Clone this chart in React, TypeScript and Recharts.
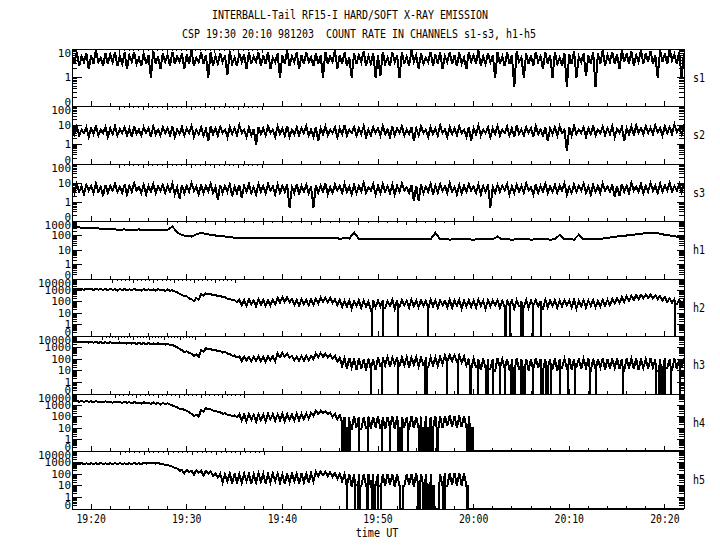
import React from 'react';
import { LineChart, Line, XAxis, YAxis } from 'recharts';

// minutes after 19:00; one half-minute bin from 19:18 to 20:22.
// *_HI / *_LO are the top and bottom of the noisy trace in each bin.
const T0 = 18;
const STEP = 0.5;
const T_END = 82;

const MAJOR_TICKS = [20, 30, 40, 50, 60, 70, 80];
const TICK_LABELS = ['19:20', '19:30', '19:40', '19:50', '20:00', '20:10', '20:20'];

const TITLE_1 = 'INTERBALL-Tail RF15-I HARD/SOFT X-RAY EMISSION';
const TITLE_2 = 'CSP 19:30 20:10 981203  COUNT RATE IN CHANNELS s1-s3, h1-h5';
const X_TITLE = 'time UT';

const S1_HI = [
  6, 8, 5.5, 7, 6, 9, 5, 7, 6.5, 8,
  5.5, 7.5, 6, 8, 5, 7, 6, 8.5, 5.5, 7,
  6, 8, 5.5, 7, 6.5, 9, 5, 7.5, 6, 8,
  5.5, 7, 6, 8.5, 5, 7, 6.5, 8, 5.5, 7.5,
  6, 8, 5, 7, 6, 9, 5.5, 7.5, 6, 8,
  5, 7, 6, 8, 5.5, 9, 6, 7.5, 5, 7,
  6, 8.5, 5.5, 7, 6, 8, 5, 7.5, 6, 8,
  5.5, 9, 6, 7, 5, 8, 6.5, 7.5, 5.5, 8,
  6, 7.5, 5, 8, 6, 9, 5.5, 7, 6, 8,
  5.5, 7.5, 6, 8.5, 5, 7, 6, 8, 5.5, 7.5,
  6, 8, 5, 7, 6.5, 8.5, 5.5, 7, 6, 8,
  7, 9, 6, 8, 6.5, 9, 7, 8.5, 6, 9,
  7, 8.5, 6, 9, 7, 9.5, 6.5, 8, 7,
];
const S1_LO = [
  3, 2.5, 3.5, 2, 3, 3.5, 2.5, 3, 3.5, 2.5,
  3, 2, 3.5, 3, 2.5, 3, 1, 3, 2, 3.5,
  2.5, 3, 3.5, 2, 3, 2.5, 3.5, 3, 1, 2.5,
  3, 3.5, 1.2, 3, 2.5, 3.5, 2, 3, 3.5, 2.5,
  3, 2, 3.5, 1, 3, 2.5, 3.5, 2, 3, 3.5,
  2.5, 3, 1, 3, 3.5, 2, 3, 2.5, 1, 3,
  3.5, 2.5, 3, 1, 1.1, 3, 2.5, 3.5, 1, 3,
  2.5, 3.5, 2, 3, 3.5, 2.5, 3, 2, 3.5, 3,
  2.5, 3, 2, 3.5, 3, 2.5, 3, 3.5, 1, 3,
  2.5, 3, 0.45, 3.5, 1, 3, 2.5, 3.5, 2, 3,
  1, 3, 2.5, 0.45, 3, 1, 3.5, 1.1, 3, 0.45,
  3, 2.5, 3.5, 3, 2, 3.5, 3, 2.5, 3.5, 3,
  3.5, 3, 1, 3.5, 3, 4, 3, 1, 3.5,
];

const S2_HI = [
  7, 9, 6, 8, 7, 10, 6, 8, 7, 9,
  6.5, 8, 7, 9.5, 6, 8, 7, 9, 6, 8,
  7, 9, 6, 8, 7, 9.5, 6, 8, 6.5, 9,
  7, 8.5, 6, 8, 7, 10, 6, 8, 6.5, 8,
  7, 9, 6, 8.5, 7, 9.5, 6, 8, 7, 9,
  6, 8, 7, 9, 6, 8, 7, 10, 6, 8,
  7, 9, 6, 8, 7, 9.5, 6, 8.5, 7, 9,
  6, 8, 7, 9, 6, 8, 7, 10, 6, 8,
  7, 9, 6, 8, 7, 9.5, 6, 8, 7, 9,
  6, 8.5, 7, 10, 6, 8, 7, 9, 6, 8,
  7, 8, 9, 6, 8, 9.5, 6, 8, 7, 10,
  6, 8.5, 7, 9, 6.5, 8, 7, 9, 10, 7,
  9, 7.5, 10, 7, 9, 8, 11, 7, 9,
];
const S2_LO = [
  3.5, 3, 4, 2.5, 3.5, 3, 4, 2.5, 3.5, 3,
  4, 3, 2.5, 3.5, 3, 4, 2.5, 3.5, 3, 4,
  3, 2.5, 3.5, 3, 4, 2.5, 3.5, 3, 1.5, 3.5,
  3, 4, 2.5, 3.5, 3, 4, 2.5, 3, 1, 3.5,
  3, 4, 2.5, 3.5, 3, 2.5, 3.5, 3, 4, 3,
  2.5, 1.5, 3.5, 3, 4, 2.5, 3.5, 3, 4, 3,
  3.5, 2.5, 3, 4, 3, 3.5, 2.5, 3, 4, 3,
  3.5, 1.5, 3, 4, 2.5, 3.5, 3, 4, 2.5, 3.5,
  3, 4, 2.5, 1.6, 3.5, 3, 4, 2.5, 3.5, 3,
  4, 3, 2.5, 3.5, 3, 4, 2.5, 3.5, 3, 1.5,
  3.5, 3, 4, 0.45, 3, 3.5, 4, 2.5, 3.5, 3,
  4, 3, 3.5, 2.5, 4, 1.5, 3.5, 3, 4, 3.5,
  4, 3.5, 4.5, 3, 4, 3.5, 4.5, 3.5, 4,
];

const S3_HI = [
  7, 9, 6.5, 8, 7, 9.5, 6, 8, 7, 9,
  6.5, 8.5, 7, 10, 6, 8, 7, 9, 6.5, 8,
  7, 9, 6, 8, 7, 10, 6.5, 8.5, 7, 9,
  6, 8, 7, 8.5, 6.5, 8, 7, 9, 6, 8.5,
  7, 9, 6.5, 8, 7, 8.5, 6, 9, 7, 8,
  6.5, 8, 7, 9.5, 6, 8.5, 7, 9, 6.5, 8,
  7, 10, 6, 8.5, 7, 9, 6.5, 8, 7, 9.5,
  6, 8, 7, 8.5, 6.5, 9, 7, 8.5, 7, 10,
  6, 8, 7, 9, 6.5, 8, 7, 8.5, 6, 8,
  7, 9, 6.5, 8, 7, 10, 6, 8.5, 7, 9,
  6.5, 8, 7, 9.5, 6, 8.5, 7, 9, 6.5, 8,
  7, 9.5, 6.5, 8.5, 7, 9, 7, 10, 6.5, 9,
  7, 10, 7, 9.5, 7.5, 10, 7, 9, 8,
];
const S3_LO = [
  3, 3.5, 2.5, 4, 3, 3.5, 2, 3, 4, 3.5,
  3, 2.5, 3.5, 4, 3, 2.5, 3.5, 3, 4, 3,
  3.5, 2.5, 1.5, 3, 3.5, 4, 2.5, 3, 3.5, 3,
  1.3, 3, 3.5, 2, 3, 1.6, 3.5, 3, 2.5, 3.5,
  3, 4, 2.5, 3, 3.5, 0.5, 3, 2.5, 3.5, 3,
  0.5, 3, 3.5, 2.5, 3, 4, 3, 3.5, 2.5, 3,
  3.5, 3, 4, 2.5, 3, 3.5, 3, 2.5, 3.5, 4,
  3, 1.1, 1.2, 3, 3.5, 2.5, 3, 4, 3, 3.5,
  2.5, 3, 3.5, 4, 3, 2.5, 3.5, 0.5, 3, 3.5,
  4, 2.5, 3, 3.5, 3, 4, 2.5, 3, 3.5, 3,
  3.5, 3, 4, 2.5, 3, 3.5, 4, 3, 2.5, 3.5,
  3, 4, 3.5, 1.8, 2, 3.5, 3, 4, 3.5, 3,
  3.5, 4, 3, 3.5, 4, 3.5, 4, 3.5, 4,
];

const H1 = [
  380, 370, 350, 330, 320, 310, 300, 290, 270, 260,
  255, 260, 250, 255, 260, 250, 255, 258, 252, 255,
  250, 420, 160, 110, 90, 85, 120, 150, 130, 110,
  100, 90, 85, 78, 70, 72, 66, 70, 65, 68,
  62, 68, 64, 70, 66, 62, 67, 64, 69, 65,
  68, 62, 66, 70, 64, 68, 60, 65, 62, 160,
  60, 58, 62, 56, 58, 55, 57, 54, 56, 53,
  55, 54, 57, 53, 56, 55, 150, 54, 56, 52,
  55, 53, 56, 54, 52, 55, 53, 56, 54, 85,
  53, 55, 52, 54, 53, 56, 52, 54, 53, 55,
  52, 54, 110, 53, 55, 52, 115, 54, 56, 58,
  60, 62, 65, 80, 85, 90, 100, 110, 120, 130,
  145, 150, 148, 135, 110, 100, 88, 78, 70,
];

const H2_HI = [
  1500, 1400, 1400, 1450, 1350, 1400, 1350, 1300, 1400, 1250,
  1350, 1300, 1250, 1350, 1200, 1300, 1250, 1200, 1300, 1150,
  1200, 1000, 700, 400, 300, 170, 220, 450, 550, 480,
  400, 340, 260, 190, 140, 150, 140, 160, 130, 170,
  150, 140, 160, 220, 260, 250, 170, 150, 160, 140,
  170, 180, 230, 220, 240, 160, 150, 120, 130, 110,
  140, 120, 110, 130, 130, 140, 120, 150, 130, 140,
  120, 150, 130, 140, 125, 150, 130, 140, 120, 145,
  130, 150, 120, 140, 130, 150, 125, 140, 130, 145,
  120, 150, 130, 140, 125, 150, 130, 140, 120, 150,
  130, 145, 120, 140, 130, 150, 125, 140, 130, 150,
  120, 140, 150, 180, 220, 260, 300, 330, 380, 400,
  420, 410, 380, 320, 260, 200, 170, 150, 140,
];
const H2_LO = [
  1200, 1150, 1100, 1200, 1050, 1150, 1100, 1050, 1150, 1000,
  1100, 1050, 1000, 1100, 950, 1050, 1000, 950, 1050, 900,
  950, 800, 500, 300, 200, 110, 150, 350, 450, 380,
  320, 260, 190, 130, 90, 50, 45, 60, 40, 55,
  45, 50, 60, 90, 100, 90, 55, 45, 60, 50,
  55, 70, 100, 90, 80, 50, 35, 40, 25, 45,
  30, 40, 17, 35, 40, 30, 45, 25, 35, 50,
  30, 40, 35, 45, 25, 40, 30, 50, 35, 30,
  45, 25, 40, 35, 30, 45, 25, 40, 50, 30,
  35, 45, 25, 40, 35, 30, 50, 40, 25, 35,
  45, 30, 40, 50, 35, 25, 40, 30, 45, 35,
  40, 45, 50, 70, 80, 100, 120, 150, 170, 200,
  220, 200, 170, 130, 100, 80, 60, 50, 45,
];

const H3_HI = [
  3400, 3300, 3300, 3100, 3100, 3100, 2900, 2900, 2900, 2700,
  2800, 2600, 2700, 2500, 2600, 2400, 2500, 2300, 2400, 2200,
  2100, 1700, 1100, 600, 480, 300, 250, 600, 900, 750,
  620, 520, 430, 300, 210, 180, 170, 160, 170, 180,
  150, 170, 180, 320, 340, 300, 200, 170, 180, 190,
  200, 320, 330, 300, 250, 200, 130, 120, 130, 110,
  127, 100, 110, 90, 150, 140, 155, 130, 150, 140,
  150, 135, 150, 140, 155, 130, 150, 160, 220, 230,
  220, 200, 170, 110, 105, 100, 115, 110, 100, 120,
  105, 110, 100, 115, 105, 110, 100, 120, 110, 105,
  100, 115, 110, 100, 120, 105, 110, 100, 115, 110,
  100, 120, 105, 110, 115, 100, 110, 105, 120, 110,
  100, 115, 105, 110, 120, 100, 110, 105, 115,
];
const H3_LO = [
  3000, 2800, 2800, 2700, 2600, 2600, 2500, 2400, 2400, 2300,
  2300, 2200, 2200, 2100, 2100, 2000, 2000, 1900, 1900, 1800,
  1700, 1300, 750, 420, 330, 200, 160, 420, 700, 560,
  470, 380, 300, 200, 140, 70, 80, 65, 75, 70,
  60, 80, 65, 150, 160, 130, 80, 70, 75, 80,
  100, 150, 160, 140, 110, 60, 25, 15, 20, 12,
  15, 10, 15, 12, 25, 30, 21, 35, 25, 30,
  20, 35, 25, 30, 21, 30, 25, 40, 60, 70,
  60, 50, 30, 15, 20, 12, 18, 15, 10, 20,
  15, 12, 18, 15, 20, 10, 15, 18, 12, 20,
  15, 10, 18, 15, 12, 20, 15, 18, 10, 15,
  20, 12, 15, 18, 15, 10, 20, 15, 12, 18,
  15, 20, 10, 15, 18, 12, 15, 20, 15,
];

// h4 and h5 end near 20:00; a trailing gap sets them to zero afterwards
const H4_HI = [
  2600, 2500, 2400, 2500, 2300, 2400, 2200, 2300, 2100, 2200,
  2000, 2100, 1900, 2000, 1800, 1900, 1700, 1800, 1600, 1600,
  1500, 1000, 700, 520, 350, 180, 150, 400, 560, 450,
  340, 250, 200, 150, 130, 170, 160, 180, 150, 170,
  160, 180, 170, 160, 180, 170, 160, 190, 180, 200,
  230, 330, 340, 320, 250, 190, 140, 100, 95, 110,
  100, 90, 105, 100, 110, 95, 100, 110, 105, 100,
  95, 110, 100, 105, 110, 100, 120, 110, 115, 130,
  120, 125, 120, 115,
];
const H4_LO = [
  2200, 2100, 2000, 2100, 1900, 2000, 1800, 1900, 1700, 1800,
  1600, 1700, 1500, 1600, 1400, 1500, 1300, 1400, 1200, 1300,
  1200, 800, 500, 380, 250, 120, 100, 300, 440, 350,
  260, 190, 150, 110, 90, 45, 40, 55, 35, 50,
  40, 60, 45, 50, 40, 55, 45, 50, 60, 70,
  120, 180, 200, 170, 100, 60, 40, 10, 9, 12,
  8, 10, 9, 12, 10, 8, 11, 9, 10, 12,
  8, 10, 9, 11, 10, 12, 9, 10, 15, 12,
  10, 12, 11, 10,
];

const H5_HI = [
  900, 880, 900, 860, 900, 880, 920, 860, 900, 880,
  900, 860, 890, 920, 880, 980, 1000, 980, 920, 780,
  650, 450, 300, 220, 230, 200, 220, 200, 190, 170,
  120, 110, 100, 120, 110, 100, 115, 110, 100, 120,
  110, 100, 115, 110, 100, 120, 110, 105, 115, 110,
  120, 160, 170, 160, 150, 130, 110, 100, 110, 95,
  105, 100, 110, 100, 105, 95, 110, 100, 100, 110,
  105, 100, 115, 110, 105, 100, 120, 110, 125, 120,
  130, 125, 115,
];
const H5_LO = [
  780, 740, 760, 720, 770, 740, 780, 730, 760, 740,
  770, 720, 750, 780, 740, 820, 880, 820, 780, 600,
  500, 350, 200, 120, 150, 90, 130, 80, 110, 70,
  50, 20, 25, 15, 20, 18, 25, 15, 20, 22,
  15, 20, 25, 18, 15, 20, 25, 15, 20, 18,
  25, 70, 80, 70, 60, 40, 25, 10, 8, 12,
  9, 10, 8, 11, 9, 10, 12, 8, 9, 10,
  12, 9, 10, 8, 11, 10, 12, 9, 10, 12,
  10, 11, 9,
];

// times (min after 19:00) where the count rate drops to zero
const H2_DROPS = [49.4, 50.55, 52.12, 55.26, 63.28, 63.35, 63.42, 63.8, 64.95, 65.05, 65.16, 66.21, 67.05, 81.06];
const H3_DROPS = [
  49.24, 50.45, 52.12, 54.92, 55.0, 55.09, 57.18, 58.37, 59.62, 59.73, 60.49, 61.32, 61.43, 61.54,
  62.03, 62.76, 63.28, 63.91, 64.02, 64.12, 64.23, 64.33, 64.95, 65.06, 65.16, 65.27, 65.37, 66.21,
  67.05, 67.26, 67.57, 67.78, 68.09, 69.03, 69.87, 70.6, 72.17, 72.8, 75.62, 79.07, 79.38, 79.59,
  79.8, 80.01, 80.64, 81.58,
];
const H4_DROPS = [
  46.2, 46.37, 46.55, 46.66, 46.76, 46.87, 46.97, 47.07, 48.04, 48.99, 50.39, 51.25, 52.12, 52.23,
  52.33, 52.47, 53.17, 54.32, 54.42, 54.52, 54.62, 54.72, 54.82, 54.92, 55.02, 55.12, 55.22, 55.32,
  55.42, 55.52, 55.62, 55.78, 56.14, 56.31, 59.28, 59.45, 59.62, 59.73,
];
const H5_DROPS = [
  46.73, 47.6, 47.94, 48.03, 48.12, 48.82, 48.99, 49.34, 49.5, 49.69, 50.03, 50.31, 54.22, 54.39,
  54.74, 54.92, 55.09, 55.19, 55.29, 55.39, 55.49, 55.59, 55.69, 55.79, 56.8, 57.01, 59.28,
];
// stretches with zero counts [from, to]
const H4_GAPS = [[59.9, 82]];
const H5_GAPS = [[52.3, 52.65], [55.86, 56.41], [59.45, 82]];

const FONT = '"DejaVu Sans Mono", "Liberation Mono", monospace';
const FLOOR = 0.1; // "0" sits on the bottom of each log axis

const PANEL_HEIGHTS = [57, 58, 57, 58, 57, 58, 57, 58];
const FIRST_TOP = 49;

const buildSeries = (hi: number[], lo: number[] | null, drops: number[] = [], gaps: number[][] = []) => {
  const pts: { t: number; v: number; o: number }[] = [];
  let o = 0;
  const inGap = (t: number) => gaps.some(([a, b]) => t > a && t < b);
  const base = (t: number) => {
    const i = Math.floor((t - T0) / STEP + 1e-9);
    if (i < 0 || i >= hi.length) return 0;
    return lo ? lo[i] : hi[i];
  };
  hi.forEach((v, i) => {
    const t = T0 + i * STEP;
    if (!inGap(t)) pts.push({ t, v, o: o++ });
    if (lo && !inGap(t + STEP / 2)) pts.push({ t: t + STEP / 2, v: lo[i], o: o++ });
  });
  drops.forEach(t => {
    const b = base(t);
    pts.push({ t, v: b, o: o++ });
    pts.push({ t, v: 0, o: o++ });
    pts.push({ t, v: b, o: o++ });
  });
  gaps.forEach(([a, b]) => {
    pts.push({ t: a, v: base(a), o: o++ });
    pts.push({ t: a, v: 0, o: o++ });
    pts.push({ t: b, v: 0, o: o++ });
    if (b < T_END) pts.push({ t: b, v: base(b), o: o++ });
  });
  pts.sort((p, q) => p.t - q.t || p.o - q.o);
  return pts.map(p => ({ t: p.t, v: Math.max(p.v, FLOOR) }));
};

const logTicks = (max: number) => {
  const out: number[] = [];
  const top = Math.round(Math.log10(max));
  for (let e = -1; e <= top; e++) {
    const d = Math.pow(10, e);
    out.push(d);
    if (e < top) for (let k = 2; k <= 9; k++) out.push(d * k);
  }
  return out;
};

const isDecade = (v: number) => Math.abs(Math.log10(v) - Math.round(Math.log10(v))) < 1e-6;

const PANELS = [
  { name: 's1', max: 10, data: buildSeries(S1_HI, S1_LO) },
  { name: 's2', max: 100, data: buildSeries(S2_HI, S2_LO) },
  { name: 's3', max: 100, data: buildSeries(S3_HI, S3_LO) },
  { name: 'h1', max: 1000, data: buildSeries(H1, null) },
  { name: 'h2', max: 10000, data: buildSeries(H2_HI, H2_LO, H2_DROPS) },
  { name: 'h3', max: 10000, data: buildSeries(H3_HI, H3_LO, H3_DROPS) },
  { name: 'h4', max: 10000, data: buildSeries(H4_HI, H4_LO, H4_DROPS, H4_GAPS) },
  { name: 'h5', max: 10000, data: buildSeries(H5_HI, H5_LO, H5_DROPS, H5_GAPS) },
];

const X_TICKS: number[] = [];
for (let m = 20; m <= 80; m += 2) X_TICKS.push(m);

const txt = (s: string, w: number, size = 12) => ({
  fontFamily: FONT,
  fontSize: size,
  fill: '#000',
  textLength: s.length * w,
  lengthAdjust: 'spacingAndGlyphs' as const,
  style: { whiteSpace: 'pre' as const },
});

const LeftTick = (props: any) => {
  const { x, y, payload, max } = props;
  const v = payload.value;
  if (!isDecade(v)) return <line x1={x} x2={x + 5} y1={y} y2={y} stroke="#000" />;
  const label = v <= FLOOR ? '0' : String(Math.round(v));
  const dy = v <= FLOOR ? -4 : v >= max ? 4 : 0;
  return (
    <g>
      <line x1={x} x2={x + 10} y1={y} y2={y} stroke="#000" />
      <text x={x - 1} y={y + dy} dy="0.36em" textAnchor="end" {...txt(label, 6.6, 10)}>{label}</text>
    </g>
  );
};

const RightTick = (props: any) => {
  const { x, y, payload } = props;
  const len = isDecade(payload.value) ? 7 : 5;
  return <line x1={x} x2={x - len} y1={y} y2={y} stroke="#000" />;
};

const BottomTick = (props: any) => {
  const { x, y, payload, showLabel } = props;
  const idx = MAJOR_TICKS.indexOf(payload.value);
  const major = idx >= 0;
  return (
    <g>
      <line x1={x} x2={x} y1={y} y2={y - (major ? 5 : 3)} stroke="#000" />
      {showLabel && major && (
        <text x={x} y={y + 10} dy="0.36em" textAnchor="middle" {...txt(TICK_LABELS[idx], 5.9)}>
          {TICK_LABELS[idx]}
        </text>
      )}
    </g>
  );
};

const TopTick = (props: any) => {
  const { x, y, payload } = props;
  const len = MAJOR_TICKS.includes(payload.value) ? 4 : 2;
  return <line x1={x} x2={x} y1={y} y2={y + len} stroke="#000" />;
};

const Panel = ({ index }: { index: number }) => {
  const cfg = PANELS[index];
  const h = PANEL_HEIGHTS[index];
  const top = FIRST_TOP + PANEL_HEIGHTS.slice(0, index).reduce((a, b) => a + b, 0);
  const last = index === PANELS.length - 1;
  const padTop = 10;
  const padBottom = last ? 40 : 10;
  const ticks = logTicks(cfg.max);
  return (
    <div style={{ position: 'absolute', left: 0, top: top - padTop, shapeRendering: 'crispEdges' }}>
      <LineChart width={720} height={h + padTop + padBottom} data={cfg.data} margin={{ top: 0, right: 0, bottom: 0, left: 0 }}>
        <XAxis
          xAxisId="b"
          dataKey="t"
          type="number"
          domain={[T0, T_END]}
          allowDataOverflow
          ticks={X_TICKS}
          interval={0}
          height={padBottom}
          tickSize={0}
          tickMargin={0}
          tickLine={false}
          axisLine={{ stroke: '#000' }}
          tick={(p: any) => <BottomTick {...p} showLabel={last} />}
        />
        <XAxis
          xAxisId="t"
          orientation="top"
          type="number"
          domain={[T0, T_END]}
          allowDataOverflow
          ticks={X_TICKS}
          interval={0}
          height={padTop}
          tickSize={0}
          tickMargin={0}
          tickLine={false}
          axisLine={{ stroke: '#000' }}
          tick={(p: any) => <TopTick {...p} />}
        />
        <YAxis
          yAxisId="l"
          type="number"
          scale="log"
          domain={[FLOOR, cfg.max]}
          allowDataOverflow
          ticks={ticks}
          interval={0}
          width={72}
          tickSize={0}
          tickMargin={0}
          tickLine={false}
          axisLine={{ stroke: '#000' }}
          tick={(p: any) => <LeftTick {...p} max={cfg.max} />}
        />
        <YAxis
          yAxisId="r"
          orientation="right"
          type="number"
          scale="log"
          domain={[FLOOR, cfg.max]}
          allowDataOverflow
          ticks={ticks}
          interval={0}
          width={36}
          tickSize={0}
          tickMargin={0}
          tickLine={false}
          axisLine={{ stroke: '#000' }}
          tick={(p: any) => <RightTick {...p} />}
        />
        <Line
          xAxisId="b"
          yAxisId="l"
          dataKey="v"
          type="linear"
          stroke="#000"
          strokeWidth={2}
          dot={false}
          activeDot={false}
          isAnimationActive={false}
        />
      </LineChart>
    </div>
  );
};

export default function App() {
  const tops = PANEL_HEIGHTS.map((_, i) => FIRST_TOP + PANEL_HEIGHTS.slice(0, i).reduce((a, b) => a + b, 0));
  return (
    <div style={{ position: 'absolute', left: 0, top: 0, width: 720, height: 550, background: '#fff', overflow: 'hidden' }}>
      <svg width={720} height={550} style={{ position: 'absolute', left: 0, top: 0 }}>
        <text x={212} y={15} dy="0.36em" {...txt(TITLE_1, 6)}>{TITLE_1}</text>
        <text x={182} y={34} dy="0.36em" {...txt(TITLE_2, 6)}>{TITLE_2}</text>
        {PANELS.map((p, i) => (
          <text key={p.name} x={693} y={tops[i] + PANEL_HEIGHTS[i] / 2} dy="0.36em" {...txt(p.name, 6)}>
            {p.name}
          </text>
        ))}
        <text x={377} y={533} dy="0.36em" textAnchor="middle" {...txt(X_TITLE, 6.1)}>{X_TITLE}</text>
      </svg>
      {PANELS.map((p, i) => (
        <Panel key={p.name} index={i} />
      ))}
    </div>
  );
}
